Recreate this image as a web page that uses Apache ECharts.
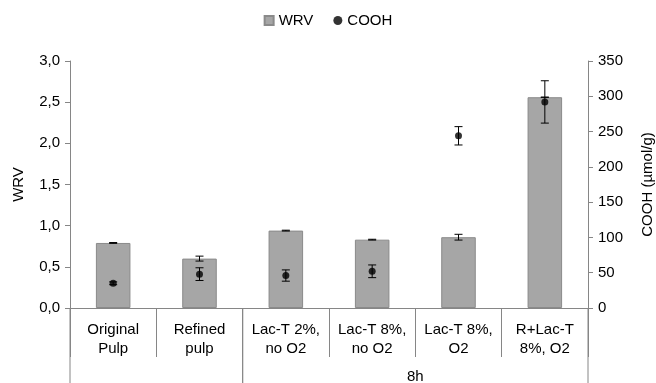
<!DOCTYPE html>
<html>
<head>
<meta charset="utf-8">
<script src="https://cdn.jsdelivr.net/npm/echarts@6/dist/echarts.min.js"></script>
<style>
  html, body { margin: 0; padding: 0; background: #fff; }
  #chart { width: 656px; height: 383px; }
</style>
</head>
<body>
<div id="chart"></div>
<script>
// Sample treatments along the category axis
const categories = ['Original\nPulp', 'Refined\npulp', 'Lac-T 2%,\nno O2', 'Lac-T 8%,\nno O2', 'Lac-T 8%,\nO2', 'R+Lac-T\n8%, O2'];
// Second-level grouping below the category labels
const groupNames = ['', '8h'];
const groupSpans = [2, 4];

// Water retention value (left axis) with standard deviations
const wrv = [0.79, 0.60, 0.94, 0.83, 0.86, 2.56];
const wrvErr = [0.005, 0.03, 0.005, 0.005, 0.035, 0];

// Carboxyl group content, µmol/g (right axis) with standard deviations
const cooh = [35, 48, 46, 52, 244, 292];
const coohErr = [2, 9, 8, 9, 13, 30];

const FONT = "'Liberation Sans', Arial, sans-serif";
const AXIS_COLOR = '#868686';

const errorData = (vals, errs) => vals.map((v, i) => [i, v - errs[i], v + errs[i]]);

function renderErrorBar(params, api) {
  const x = api.value(0);
  const lo = api.coord([x, api.value(1)]);
  const hi = api.coord([x, api.value(2)]);
  const half = 4;
  const style = { stroke: '#000', lineWidth: 1 };
  return {
    type: 'group',
    children: [
      { type: 'line', shape: { x1: hi[0], y1: hi[1], x2: lo[0], y2: lo[1] }, style },
      { type: 'line', shape: { x1: hi[0] - half, y1: hi[1], x2: hi[0] + half, y2: hi[1] }, style },
      { type: 'line', shape: { x1: lo[0] - half, y1: lo[1], x2: lo[0] + half, y2: lo[1] }, style }
    ]
  };
}

// Group start indices derived from spans
const groupStarts = groupSpans.map((s, i) => groupSpans.slice(0, i).reduce((a, b) => a + b, 0));

function renderGroup(params, api) {
  const i = params.dataIndex;
  const start = api.value(0);
  const span = api.value(1);
  const band = api.size([1, 0])[0];
  const base = api.coord([start, 0]);
  const left = base[0] - band / 2;
  const right = left + band * span;
  const y0 = base[1];
  const drop = 75;
  const style = { stroke: AXIS_COLOR, lineWidth: 1 };
  return {
    type: 'group',
    children: [
      { type: 'line', shape: { x1: left, y1: y0, x2: left, y2: y0 + drop }, style },
      { type: 'line', shape: { x1: right, y1: y0, x2: right, y2: y0 + drop }, style },
      {
        type: 'text',
        style: {
          text: groupNames[i], x: (left + right) / 2, y: y0 + 69,
          align: 'center', verticalAlign: 'middle',
          font: '15px ' + FONT, fill: '#000'
        }
      }
    ]
  };
}

const chart = echarts.init(document.getElementById('chart'), null, { renderer: 'canvas' });

chart.setOption({
  animation: false,
  backgroundColor: '#fff',
  textStyle: { fontFamily: FONT },
  legend: {
    top: 8,
    left: 'center',
    itemWidth: 9,
    itemHeight: 9,
    itemGap: 20,
    textStyle: { fontSize: 15, color: '#000', fontFamily: FONT },
    data: [
      { name: 'WRV', icon: 'rect' },
      { name: 'COOH', icon: 'circle' }
    ]
  },
  grid: { left: 70, right: 68, top: 61, bottom: 75, containLabel: false, outerBoundsMode: 'none' },
  xAxis: {
    type: 'category',
    data: categories,
    boundaryGap: true,
    axisLine: { show: true, lineStyle: { color: AXIS_COLOR, width: 1 } },
    axisTick: { show: true, interval: 0, length: 49, lineStyle: { color: AXIS_COLOR } },
    axisLabel: {
      interval: 0, margin: 12, fontSize: 15, lineHeight: 19,
      color: '#000', fontFamily: FONT, align: 'center'
    },
    splitLine: { show: false }
  },
  yAxis: [
    {
      type: 'value', min: 0, max: 3, interval: 0.5,
      name: 'WRV', nameLocation: 'middle', nameRotate: 90, nameGap: 44,
      nameTextStyle: { fontSize: 15, color: '#000', fontFamily: FONT },
      axisLine: { show: true, lineStyle: { color: AXIS_COLOR } },
      axisTick: { show: true, length: 5, lineStyle: { color: AXIS_COLOR } },
      axisLabel: {
        fontSize: 15, color: '#000', margin: 10, fontFamily: FONT,
        formatter: v => v.toFixed(1).replace('.', ',')
      },
      splitLine: { show: false }
    },
    {
      type: 'value', min: 0, max: 350, interval: 50, position: 'right',
      name: 'COOH (µmol/g)', nameLocation: 'middle', nameRotate: 90, nameGap: 52,
      nameTextStyle: { fontSize: 15, color: '#000', fontFamily: FONT },
      axisLine: { show: true, lineStyle: { color: AXIS_COLOR } },
      axisTick: { show: true, length: 5, lineStyle: { color: AXIS_COLOR } },
      axisLabel: { fontSize: 15, color: '#000', margin: 10, fontFamily: FONT },
      splitLine: { show: false }
    }
  ],
  series: [
    {
      name: 'WRV',
      type: 'bar',
      yAxisIndex: 0,
      barWidth: '40%',
      data: wrv,
      itemStyle: { color: '#a6a6a6', borderColor: '#8a8a8a', borderWidth: 1 },
      z: 2
    },
    {
      name: 'WRV error',
      type: 'custom',
      yAxisIndex: 0,
      renderItem: renderErrorBar,
      data: errorData(wrv, wrvErr),
      z: 3,
      silent: true
    },
    {
      name: 'COOH',
      type: 'scatter',
      yAxisIndex: 1,
      symbol: 'circle',
      symbolSize: 7,
      data: cooh,
      itemStyle: { color: '#000' },
      z: 5
    },
    {
      name: 'COOH error',
      type: 'custom',
      yAxisIndex: 1,
      renderItem: renderErrorBar,
      data: errorData(cooh, coohErr),
      z: 4,
      silent: true
    },
    {
      name: 'groups',
      type: 'custom',
      yAxisIndex: 0,
      clip: false,
      renderItem: renderGroup,
      data: groupStarts.map((s, i) => [s, groupSpans[i]]),
      silent: true,
      z: 1
    }
  ]
});
</script>
</body>
</html>
